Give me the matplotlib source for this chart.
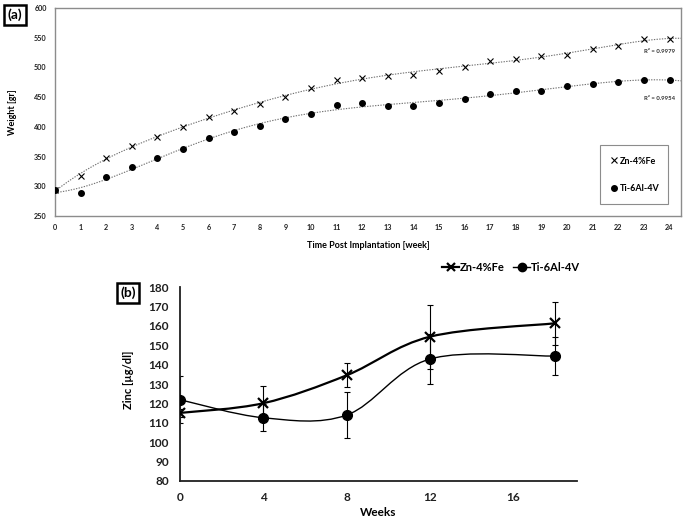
import numpy as np
import matplotlib
matplotlib.use('Agg')
import matplotlib.pyplot as plt
from matplotlib.path import Path
from matplotlib.patches import PathPatch
from matplotlib.lines import Line2D

plt.rcParams['font.family'] = ['Lato', 'DejaVu Sans']
plt.rcParams['font.weight'] = 'bold'
plt.rcParams['axes.labelweight'] = 'bold'

# ---- panel (a): body weight ----
weeks_a = list(range(25))
zn_weight = [293, 318, 348, 368, 383, 400, 417, 426, 438, 451, 465, 479, 483,
             486, 488, 494, 501, 511, 514, 520, 521, 531, 536, 548, 548]
ti_weight = [293, 288, 316, 333, 347, 362, 381, 391, 402, 414, 422, 437, 440,
             435, 435, 441, 447, 456, 461, 461, 468, 472, 476, 479, 479]
r2_labels = ['R² = 0.9979', 'R² = 0.9954']

# ---- panel (b): serum zinc ----
weeks_b = [0, 4, 8, 12, 18]
zn_zinc = [115.1, 120.1, 134.5, 154.4, 161.3]
zn_err = [2, 9, 6.3, 16.5, 11]
ti_zinc = [121.9, 112.6, 114.0, 142.9, 144.4]
ti_err = [12, 7, 12, 13, 10]


def smooth_path(ax, xs, ys, lw):
    # excel-like smoothed line: cubic bezier through the points
    pts = np.column_stack([xs, ys]).astype(float)
    n = len(pts)
    verts = [pts[0]]
    codes = [Path.MOVETO]
    for i in range(n - 1):
        p0 = pts[i - 1] if i > 0 else pts[i]
        p1 = pts[i]
        p2 = pts[i + 1]
        p3 = pts[i + 2] if i + 2 < n else pts[i + 1]
        c1 = p1 + (p2 - p0) / 6.0
        c2 = p2 - (p3 - p1) / 6.0
        verts += [c1, c2, p2]
        codes += [Path.CURVE4] * 3
    patch = PathPatch(Path(verts, codes), facecolor='none', edgecolor='black',
                      linewidth=lw, transform=ax.transData, zorder=2)
    ax.add_patch(patch)


fig = plt.figure(figsize=(6.85, 5.21), dpi=100)

# ---------------- (a) ----------------
ax1 = fig.add_axes([0.0803, 0.5854, 0.9139, 0.3992])
xa = np.array(weeks_a)
xfit = np.linspace(0, 24.45, 200)
for vals in (zn_weight, ti_weight):
    coef = np.polyfit(xa, vals, 6)
    ax1.plot(xfit, np.polyval(coef, xfit), linestyle=(0, (1.2, 1.2)),
             color='#707070', linewidth=0.8, zorder=1)
ax1.plot(weeks_a, zn_weight, linestyle='none', marker='x', markersize=4,
         markeredgewidth=0.8, color='black', label='Zn-4%Fe', zorder=3)
ax1.plot(weeks_a, ti_weight, linestyle='none', marker='o', markersize=4,
         color='black', label='Ti-6Al-4V', zorder=3)
ax1.set_xlim(0, 24.45)
ax1.set_ylim(250, 600)
ax1.set_xticks(weeks_a)
ax1.set_yticks(range(250, 601, 50))
ax1.tick_params(length=0, labelsize=5.2, pad=6, colors='#202020')
for lab in ax1.get_xticklabels() + ax1.get_yticklabels():
    lab.set_fontweight('bold')
for s in ax1.spines.values():
    s.set_color('#8c8c8c')
    s.set_linewidth(1.0)
ax1.set_xlabel('Time Post Implantation [week]', fontsize=6.5, labelpad=7)
ax1.set_ylabel('Weight [gr]', fontsize=6.5, labelpad=12)
ax1.text(24.2, 526, r2_labels[0], fontsize=4.3, ha='right', va='center',
         color='#303030')
ax1.text(24.2, 447, r2_labels[1], fontsize=4.3, ha='right', va='center',
         color='#303030')
leg1 = ax1.legend(loc='lower left', bbox_to_anchor=(0.8626, 0.034, 0.1244, 0.274),
                  mode='expand', fontsize=6.5, handlelength=0.6, handletextpad=0.3,
                  labelspacing=2.0, borderpad=1.3, fancybox=False,
                  edgecolor='#8c8c8c', framealpha=1)
leg1.get_frame().set_linewidth(0.8)
fig.text(0.0219, 0.9712, '(a)', fontsize=10, ha='center', va='center',
         bbox=dict(boxstyle='square,pad=0.25', facecolor='white',
                   edgecolor='black', linewidth=1.8))

# ---------------- (b) ----------------
ax2 = fig.add_axes([0.2628, 0.0768, 0.5795, 0.3723])
ax2.errorbar(weeks_b, zn_zinc, yerr=zn_err, fmt='none', ecolor='black',
             elinewidth=0.8, capsize=2.5, capthick=0.8, zorder=1)
ax2.errorbar(weeks_b, ti_zinc, yerr=ti_err, fmt='none', ecolor='black',
             elinewidth=0.8, capsize=2.5, capthick=0.8, zorder=1)
smooth_path(ax2, weeks_b, zn_zinc, 1.6)
smooth_path(ax2, weeks_b, ti_zinc, 1.0)
ax2.plot(weeks_b, zn_zinc, linestyle='none', marker='x', markersize=7,
         markeredgewidth=1.6, color='black', zorder=3)
ax2.plot(weeks_b, ti_zinc, linestyle='none', marker='o', markersize=7,
         color='black', zorder=3)
ax2.set_xlim(0, 19.05)
ax2.set_ylim(80, 180)
ax2.set_xticks([0, 4, 8, 12, 16])
ax2.set_yticks(range(80, 181, 10))
ax2.tick_params(length=0, labelsize=8.5, pad=8, colors='#202020')
for lab in ax2.get_xticklabels() + ax2.get_yticklabels():
    lab.set_fontweight('bold')
ax2.spines['top'].set_visible(False)
ax2.spines['right'].set_visible(False)
for s in ('left', 'bottom'):
    ax2.spines[s].set_color('#202020')
    ax2.spines[s].set_linewidth(1.3)
ax2.set_xlabel('Weeks', fontsize=8.5)
ax2.xaxis.set_label_coords(0.5, -0.135)
ax2.set_ylabel('Zinc [µg/dl]', fontsize=8)
ax2.yaxis.set_label_coords(-0.115, 0.52)
handles = [Line2D([], [], color='black', linewidth=1.6, marker='x', markersize=6,
                  markeredgewidth=1.6),
           Line2D([], [], color='black', linewidth=1.0, marker='o', markersize=6)]
ax2.legend(handles, ['Zn-4%Fe', 'Ti-6Al-4V'], loc='center',
           bbox_to_anchor=(0.834, 1.103), ncol=2, frameon=False, fontsize=8,
           handlelength=1.5, handletextpad=0.05, columnspacing=0.8)
fig.text(0.1865, 0.4376, '(b)', fontsize=10, ha='center', va='center',
         bbox=dict(boxstyle='square,pad=0.25', facecolor='white',
                   edgecolor='black', linewidth=1.8))

plt.savefig('out.png', dpi=100)
plt.close()
